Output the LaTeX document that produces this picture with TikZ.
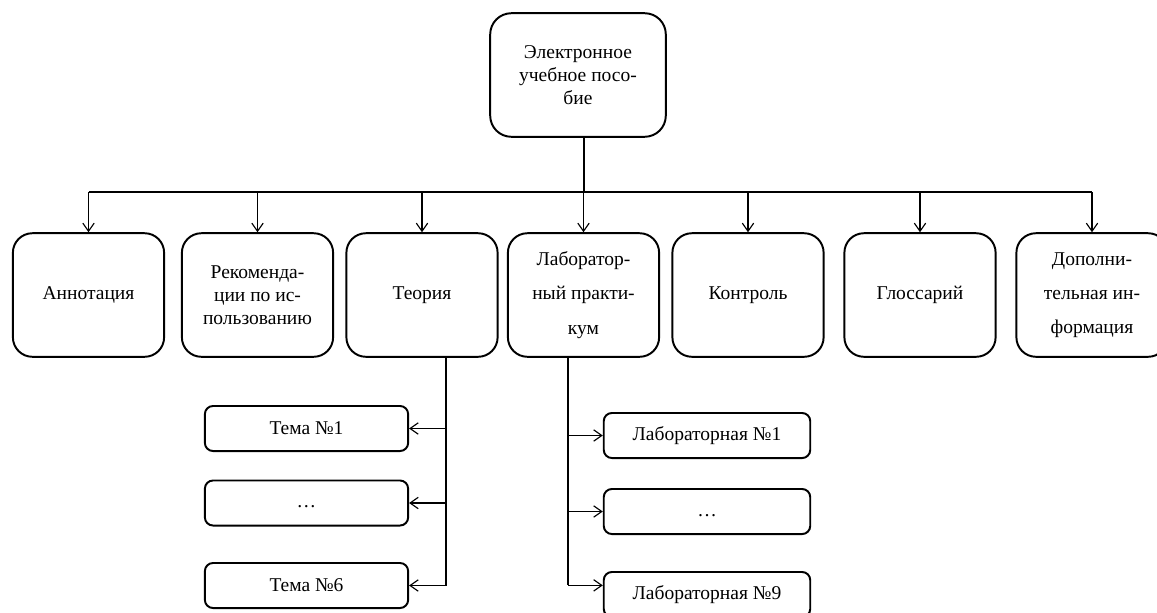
\documentclass[tikz,border=0pt]{standalone}
\usepackage{fontspec}
\setmainfont{Liberation Serif}
\usepackage{tikz}
\usetikzlibrary{positioning,calc,arrows.meta}
\tikzstyle{mainbox} = [draw, line width=1.2pt, rounded corners=13pt, minimum width=108pt, minimum height=76pt, align=center, font=\fontsize{12}{14}\selectfont]
\tikzstyle{partbox} = [draw, line width=1.2pt, rounded corners=12pt, minimum width=93pt, minimum height=76pt, align=center, font=\fontsize{12}{14}\selectfont]
\tikzstyle{loose} = [font=\fontsize{12}{21}\selectfont]
\tikzstyle{itembox} = [draw, line width=1.2pt, rounded corners=5pt, minimum width=125pt, minimum height=27.7pt, align=center, font=\fontsize{12}{14}\selectfont]
\tikzstyle{line} = [line width=0.7pt]
\tikzstyle{arrow} = [line width=0.7pt,-{Straight Barb[length=5pt,width=7pt]}]

\begin{document}
\begin{tikzpicture}[x=0.615pt,y=-0.615pt]
        \useasboundingbox (0,0) rectangle (1157,612);
        \node[mainbox] (posobie) at (578,75) {Электронное\\учебное посо-\\бие};
        % разделы пособия
        \node[partbox] (annot) at (88.5,295) {Аннотация};
        \node[partbox] (rekom) at (257.5,295) {Рекоменда-\\ции по ис-\\пользованию};
        \node[partbox] (teor) at (422,295) {Теория};
        \node[partbox,loose] (lab) at (583.5,295) {Лаборатор-\\ный практи-\\кум};
        \node[partbox] (kontrol) at (748,295) {Контроль};
        \node[partbox] (gloss) at (920,295) {Глоссарий};
        \node[partbox,loose] (dop) at (1092,295) {Дополни-\\тельная ин-\\формация};
        % темы и лабораторные
        \node[itembox] (tema1) at (306.5,428.5) {Тема №1};
        \node[itembox] (temad) at (306.5,503) {\strut …};
        \node[itembox] (tema6) at (306.5,585.5) {Тема №6};
        \node[itembox,minimum width=127pt] (lab1) at (707,435.5) {Лабораторная №1};
        \node[itembox,minimum width=127pt] (labd) at (707,511.5) {\strut …};
        \node[itembox,minimum width=127pt] (lab9) at (707,594.5) {Лабораторная №9};
        % связи
        \coordinate (bus) at (584,192);
        \draw[line] (posobie.south -| bus) -- (bus);
        \draw[line] (annot.north |- bus) -- (dop.north |- bus);
        \foreach \n in {annot,rekom,teor,lab,kontrol,gloss,dop}
            \draw[arrow] (\n.north |- bus) -- (\n.north);
        \coordinate (teorbus) at (446,357);
        \draw[line] (teorbus) -- (teorbus |- tema6.east);
        \foreach \n in {tema1,temad,tema6}
            \draw[arrow] (teorbus |- \n.east) -- (\n.east);
        \coordinate (labbus) at (568,357);
        \draw[line] (labbus) -- (labbus |- lab9.175);
        \foreach \n in {lab1.west,labd.west,lab9.175}
            \draw[arrow] (labbus |- \n) -- (\n);
    \end{tikzpicture}
\end{document}
